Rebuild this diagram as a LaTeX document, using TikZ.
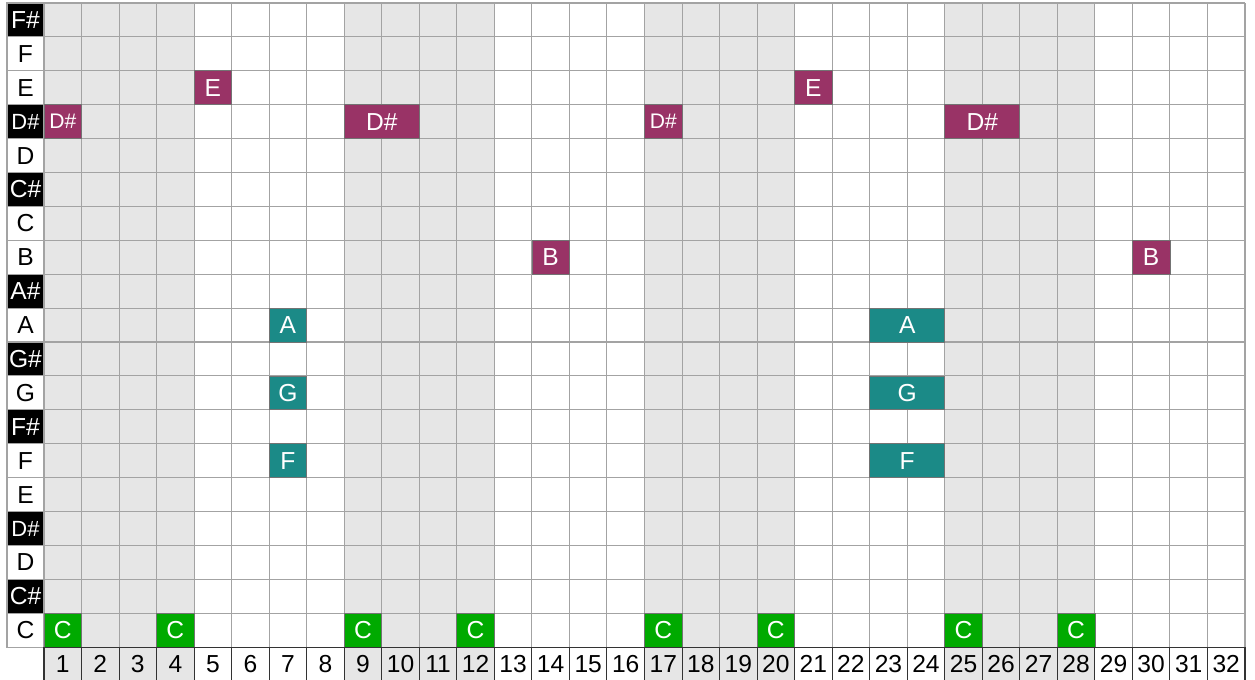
\documentclass[tikz,border=0pt]{standalone}
\usepackage{fontspec}
\setmainfont{Liberation Sans}
\usetikzlibrary{positioning}
\definecolor{notemag}{HTML}{993366}
\definecolor{noteteal}{HTML}{1B8A87}
\definecolor{notegreen}{HTML}{00AA00}
\definecolor{beatshade}{HTML}{E6E6E6}
\definecolor{gridgray}{HTML}{A3A3A3}

\begin{document}
\begin{tikzpicture}[
      x=0.7506cm, y=-0.678cm,
      gridline/.style={draw=gridgray, line width=0.6pt},
      keycell/.style={minimum width=0.74cm, minimum height=0.678cm, inner sep=0pt, outer sep=0pt,
                      draw=gridgray, line width=0.6pt, font=\fontsize{14}{16}\selectfont},
      natural/.style={keycell, fill=white, text=black},
      sharp/.style={keycell, fill=black, text=white},
      dsharp/.style={sharp, font=\fontsize{12.5}{14}\selectfont},
      note/.style={minimum height=0.678cm, inner sep=0pt, outer sep=0pt, text=white,
                   draw=black!55, line width=0.4pt, font=\fontsize{14}{16}\selectfont},
      smallnote/.style={note, font=\fontsize{12}{14}\selectfont},
      numcell/.style={minimum width=0.7506cm, minimum height=0.678cm, inner sep=0pt,
                      draw=black!80, line width=0.6pt, font=\fontsize{14}{16}\selectfont},
  ]
      \useasboundingbox (-1.1724,-0.0885) rectangle (32.267,19.97);

      % Shaded beats: 1-4, 9-12, 17-20, 25-28
      \foreach \b in {0,8,16,24}
          \fill[beatshade] (\b,0) rectangle (\b+4,20);

      % Grid
      \foreach \c in {0,...,32}
          \draw[gridline] (\c,0) -- (\c,19);
      \foreach \r in {0,...,19}
          \draw[gridline] (-0.986,\r) -- (32,\r);

      % Key column
      \foreach \r/\k/\kind in {0/F\#/sharp, 1/F/natural, 2/E/natural, 3/D\#/dsharp, 4/D/natural,
              5/C\#/sharp, 6/C/natural, 7/B/natural, 8/A\#/sharp, 9/A/natural, 10/G\#/sharp,
              11/G/natural, 12/F\#/sharp, 13/F/natural, 14/E/natural, 15/D\#/dsharp,
              16/D/natural, 17/C\#/sharp, 18/C/natural}
          \node[\kind] (key\r) at (-0.493,\r+0.5) {\k};

      % D# notes
      \node[smallnote, fill=notemag, minimum width=0.7506cm] (ds1) at (0.5,3.5) {D\#};
      \node[note, fill=notemag, minimum width=2*0.7506cm] (ds2) at (9,3.5) {D\#};
      \node[smallnote, fill=notemag, minimum width=0.7506cm] (ds3) at (16.5,3.5) {D\#};
      \node[note, fill=notemag, minimum width=2*0.7506cm] (ds4) at (25,3.5) {D\#};

      % E and B notes
      \node[note, fill=notemag, minimum width=0.7506cm] (e1) at (4.5,2.5) {E};
      \node[note, fill=notemag, minimum width=0.7506cm] (e2) at (20.5,2.5) {E};
      \node[note, fill=notemag, minimum width=0.7506cm] (b1) at (13.5,7.5) {B};
      \node[note, fill=notemag, minimum width=0.7506cm] (b2) at (29.5,7.5) {B};

      % Chord F-G-A
      \foreach \r/\k in {9/A, 11/G, 13/F} {
          \node[note, fill=noteteal, minimum width=0.7506cm] (\k1) at (6.5,\r+0.5) {\k};
          \node[note, fill=noteteal, minimum width=2*0.7506cm] (\k2) at (23,\r+0.5) {\k};
      }

      % Bass C notes
      \foreach \c [count=\i] in {1,4,9,12,17,20,25,28}
          \node[note, fill=notegreen, minimum width=0.7506cm] (c\i) at (\c-0.5,18.5) {C};

      % Step numbers
      \foreach \c in {1,...,32}
          \node[numcell] (step\c) at (\c-0.5,19.5) {\c};

\end{tikzpicture}
\end{document}
